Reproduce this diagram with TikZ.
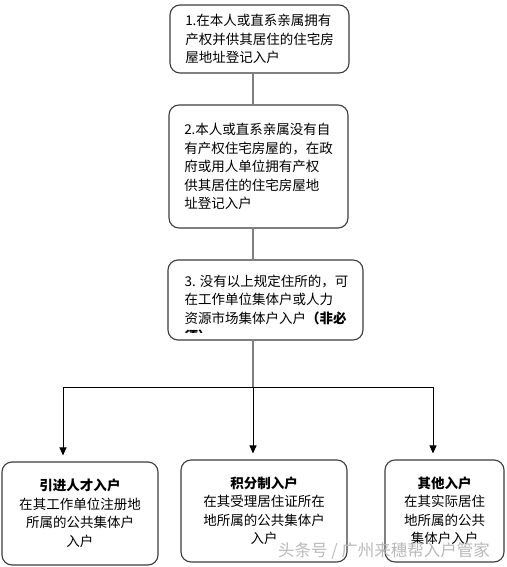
\documentclass[tikz,border=0pt]{standalone}
\usepackage{fontspec}
\newfontfamily\cjk{Noto Sans CJK SC}
\usetikzlibrary{arrows.meta}
\definecolor{rim}{HTML}{3C3C3C}
\definecolor{stem}{HTML}{808080}

\begin{document}
\begin{tikzpicture}[x=1pt,y=-1pt]
	\tikzstyle{every node}+=[inner sep=0pt,font=\cjk\fontsize{13.5}{18.5}\selectfont]
	\tikzstyle{panel}=[draw=rim,line width=1.1pt,rounded corners=10pt,align=left]
	\tikzstyle{feed}=[-{Triangle[width=7pt,length=8pt]},line width=1pt,shorten >=6pt]
	\useasboundingbox (0,0) rectangle (506,567);
	\node [panel,minimum width=179pt,minimum height=68pt] (ben) at (259.5,39) {1.在本人或直系亲属拥有\\产权并供其居住的住宅房\\屋地址登记入户};
	\node [panel,minimum width=179pt,minimum height=123pt] (zhi) at (258.5,166.5) {2.本人或直系亲属没有自\\有产权住宅房屋的，在政\\府或用人单位拥有产权\\供其居住的住宅房屋地\\址登记入户};
	\node [panel,minimum width=195pt,minimum height=80pt] (jti) at (265.5,300) {};
	\begin{scope}
		\clip [rounded corners=10pt] (jti.north west) rectangle ([yshift=8pt]jti.south east);
		\node [align=left] (jtitxt) at (266.5,309) {3. 没有以上规定住所的，可\\在工作单位集体户或人力\\资源市场集体户入户{\bfseries（非必}\\{\bfseries 须）}};
	\end{scope}
	\node [panel,align=center,minimum width=156pt,minimum height=103pt] (yin) at (80,513.5) {\textbf{引进人才入户}\\在其工作单位注册地\\所属的公共集体户\\入户};
	\node [panel,align=center,minimum width=166pt,minimum height=102pt] (jf) at (264,511) {\textbf{积分制入户}\\在其受理居住证所在\\地所属的公共集体户\\入户};
	\node [panel,align=center,minimum width=119pt,minimum height=102pt] (qt) at (444.5,511) {\textbf{其他入户}\\在其实际居住\\地所属的公共\\集体户入户};
	\coordinate (hub) at (253,387);
	\coordinate (lft) at (63,387);
	\coordinate (rgt) at (433,387);
	\draw [stem,line width=2pt] (ben.south -| hub) -- (zhi.north -| hub);
	\draw [stem,line width=2pt] (zhi.south -| hub) -- (jti.north -| hub);
	\draw [stem,line width=2pt] (jti.south -| hub) -- (hub);
	\draw [black,line width=1pt] (lft) -- (rgt);
	\draw [feed] (lft) -- (yin.north -| lft);
	\draw [feed] (hub) -- (jf.north -| hub);
	\draw [feed] (rgt) -- (qt.north -| rgt);
	\node [text=gray!55,font=\cjk\fontsize{16.5}{16.5}\selectfont] (mark) at (384,551) {头条号 / 广州来穗帮入户管家};
\end{tikzpicture}
\end{document}
